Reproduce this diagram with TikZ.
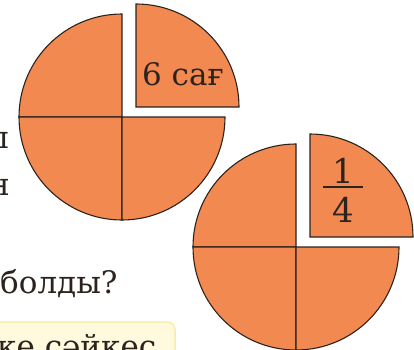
\documentclass[tikz,border=0pt]{standalone}
\usepackage{fontspec}
\setmainfont{DejaVu Serif}
\definecolor{pie}{RGB}{242,137,80}
\definecolor{edge}{RGB}{45,35,30}
\definecolor{boxfill}{RGB}{255,249,222}
\definecolor{boxedge}{RGB}{250,236,170}
\begin{document}
\begin{tikzpicture}[x=1pt,y=1pt,
  quarter/.style={fill=pie,draw=edge,line width=1.1pt,line join=miter},
  txt/.style={inner sep=0pt,text=edge},
  big/.style={font=\fontsize{31}{36}\selectfont}]
\useasboundingbox (0,0) rectangle (414,349);
\clip (0,0) rectangle (414,349);
\def\R{103}
% circle 1
\coordinate (c1) at (122,232);
\coordinate (d1) at (136,242);
\path[quarter] (c1) -- ++(90:\R) arc[start angle=90,end angle=180,radius=\R] -- cycle;
\path[quarter] (c1) -- ++(180:\R) arc[start angle=180,end angle=270,radius=\R] -- cycle;
\path[quarter] (c1) -- ++(270:\R) arc[start angle=270,end angle=360,radius=\R] -- cycle;
\path[quarter] (d1) -- ++(0:\R) arc[start angle=0,end angle=90,radius=\R] -- cycle;
% circle 2
\coordinate (c2) at (296,102);
\coordinate (d2) at (310,112);
\path[quarter] (c2) -- ++(90:\R) arc[start angle=90,end angle=180,radius=\R] -- cycle;
\path[quarter] (c2) -- ++(180:\R) arc[start angle=180,end angle=270,radius=\R] -- cycle;
\path[quarter] (c2) -- ++(270:\R) arc[start angle=270,end angle=360,radius=\R] -- cycle;
\path[quarter] (d2) -- ++(0:\R) arc[start angle=0,end angle=90,radius=\R] -- cycle;
% labels
\node[txt,big,anchor=base west] (six) at (142,264) {6 сағ};
\node[txt,font=\fontsize{34}{40}\selectfont,anchor=base] (num) at (343,166) {1};
\node[txt,font=\fontsize{34}{40}\selectfont,anchor=base] (den) at (343,127) {4};
\draw[edge,line width=1.6pt] (323,162) -- (363,162);
% cut-off text at left
\node[txt,big,anchor=base east] (l1) at (9,201) {ы};
\node[txt,big,anchor=base east] (l2) at (10,154) {н};
\node[txt,big,anchor=base west] (q) at (0,56) {болды?};
% yellow box
\path[fill=boxfill,draw=boxedge,line width=1.5pt,rounded corners=8pt] (-10,-10) rectangle (175,27);
\node[txt,big,anchor=base west] (b) at (-3,-8) {ке сәйкес};
\end{tikzpicture}
\end{document}
